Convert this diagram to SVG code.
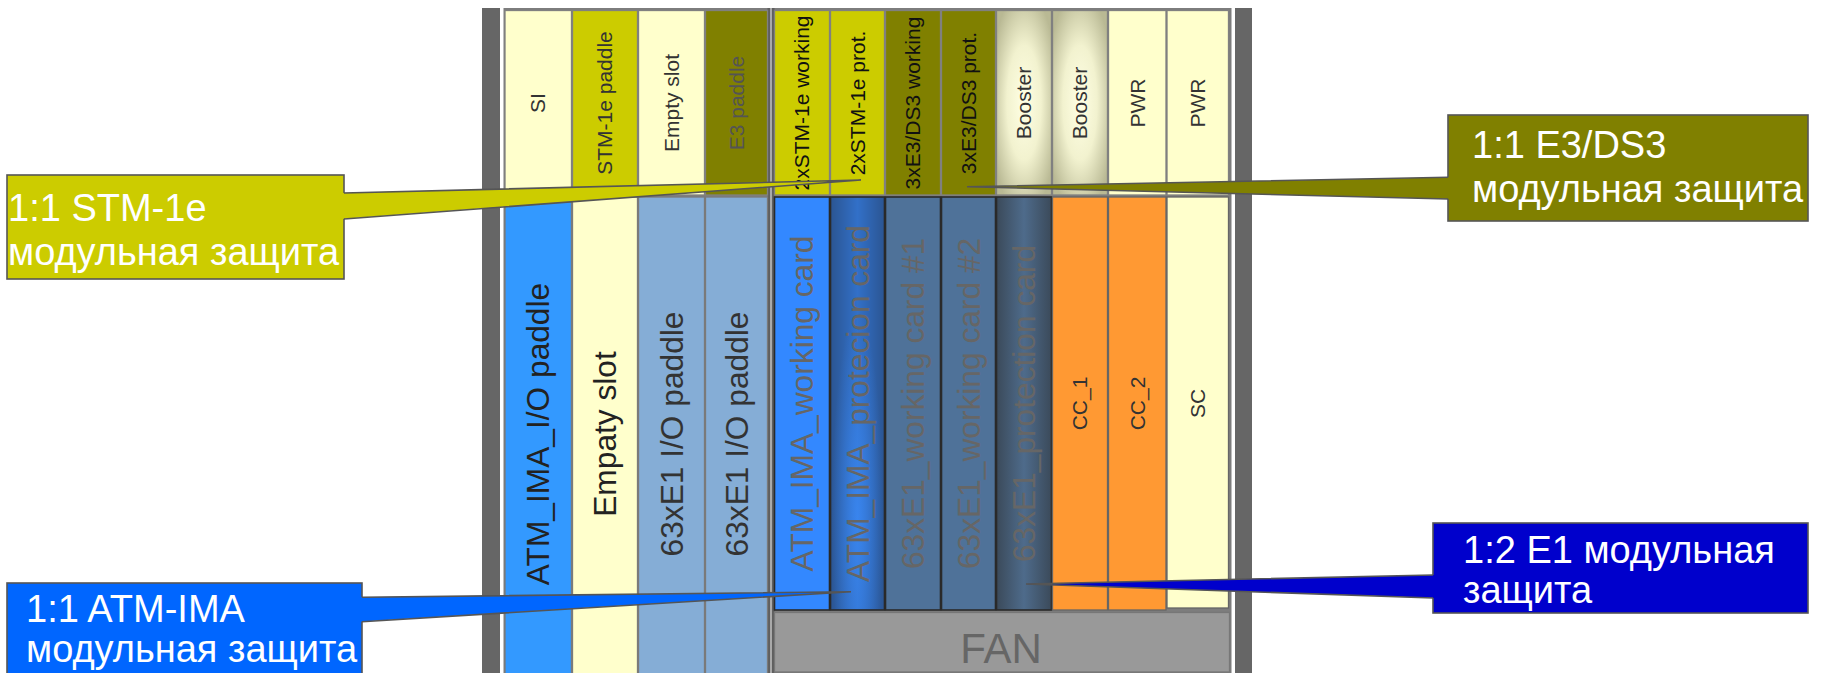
<svg xmlns="http://www.w3.org/2000/svg" width="1824" height="673" viewBox="0 0 1824 673">
<defs>
  <radialGradient id="gBooster" cx="0.5" cy="0.5" r="0.62">
    <stop offset="0" stop-color="#FFFFE4"/>
    <stop offset="0.5" stop-color="#F2F2CF"/>
    <stop offset="1" stop-color="#B9B994"/>
  </radialGradient>
  <linearGradient id="gAtmProt" x1="0" y1="0" x2="1" y2="0">
    <stop offset="0" stop-color="#2B5592"/>
    <stop offset="0.5" stop-color="#3270C8"/>
    <stop offset="1" stop-color="#2B5592"/>
  </linearGradient>
  <radialGradient id="gAtmGlow" cx="0.5" cy="0.78" r="0.5">
    <stop offset="0" stop-color="#3A88F4" stop-opacity="0.85"/>
    <stop offset="1" stop-color="#3A88F4" stop-opacity="0"/>
  </radialGradient>
  <linearGradient id="gE1Prot" x1="0" y1="0" x2="1" y2="0">
    <stop offset="0" stop-color="#3B4A5A"/>
    <stop offset="0.5" stop-color="#4E6B8B"/>
    <stop offset="1" stop-color="#3B4A5A"/>
  </linearGradient>
</defs>
<style>
  text { font-family: "Liberation Sans", Arial, sans-serif; }
  .up { font-size: 21px; fill: #333; text-anchor: middle; }
  .upk { font-size: 21px; fill: #111; text-anchor: middle; }
  .lo { font-size: 31.7px; fill: #222; text-anchor: middle; }
  .log { font-size: 31.7px; fill: #666; text-anchor: middle; }
  .sm { font-size: 21px; fill: #333; text-anchor: middle; }
  .co { font-size: 38px; fill: #FFFFFF; }
  .cu { stroke: #808080; stroke-width: 1.3; }
  .cl { stroke: #7a7a7a; stroke-width: 1.3; }
  .cd { stroke: #2a2a2a; stroke-width: 1.6; }
  .cc { stroke: #666; stroke-width: 1.3; }
  .lyel { fill: #FFFFCC; }
  .yel { fill: #CCCC00; }
  .olv { fill: #808000; }
  .box { stroke: #555; stroke-width: 1.6; }
  .wedge-side { fill: none; stroke: #555; stroke-width: 1.6; stroke-linejoin: miter; }
</style>

<rect width="1824" height="673" fill="#FFFFFF"/>

<g id="chassis">
  <rect x="482" y="8" width="18" height="665" fill="#666666"/>
  <rect x="1235" y="8" width="17" height="665" fill="#666666"/>
  <rect x="503.5" y="8" width="728" height="665" fill="#7d7d7d"/>
  <rect x="767.5" y="8" width="2.5" height="665" fill="#5f5f5f"/>
  <rect x="770" y="8" width="2" height="665" fill="#a9a9a9"/>
  <rect x="772" y="8" width="2.5" height="665" fill="#5f5f5f"/>
</g>

<!-- upper row -->
<g id="slot-si"><rect class="lyel cu" x="505" y="10.5" width="66.5" height="184.5"/><text class="up" transform="translate(538,103) rotate(-90)" y="7.4">SI</text></g>
<g id="slot-stm1e-paddle"><rect class="yel cu" x="572.5" y="10.5" width="65" height="184.5"/><text class="up" transform="translate(605,103) rotate(-90)" y="7.4">STM-1e paddle</text></g>
<g id="slot-empty-upper"><rect class="lyel cu" x="638.5" y="10.5" width="66" height="184.5"/><text class="up" transform="translate(671.5,103) rotate(-90)" y="7.4">Empty slot</text></g>
<g id="slot-e3-paddle"><rect class="olv cu" x="705.5" y="10.5" width="62" height="184.5"/><text class="up" style="fill:#545454" transform="translate(737,103) rotate(-90)" y="7.4">E3 paddle</text></g>
<g id="slot-stm-working"><rect class="yel cu" x="774.5" y="10.5" width="55" height="184.5"/><text class="upk" transform="translate(802,103) rotate(-90)" y="7.4">2xSTM-1e working</text></g>
<g id="slot-stm-prot"><rect class="yel cu" x="830.5" y="10.5" width="54" height="184.5"/><text class="upk" transform="translate(857.5,103) rotate(-90)" y="7.4">2xSTM-1e prot.</text></g>
<g id="slot-e3-working"><rect class="olv cu" x="885.5" y="10.5" width="55" height="184.5"/><text class="upk" transform="translate(913,103) rotate(-90)" y="7.4">3xE3/DS3 working</text></g>
<g id="slot-e3-prot"><rect class="olv cu" x="941.5" y="10.5" width="54" height="184.5"/><text class="upk" transform="translate(968.5,103) rotate(-90)" y="7.4">3xE3/DS3 prot.</text></g>
<g id="slot-booster-1"><rect class="cu" fill="url(#gBooster)" x="996.5" y="10.5" width="55" height="184.5"/><text class="up" transform="translate(1024,103) rotate(-90)" y="7.4">Booster</text></g>
<g id="slot-booster-2"><rect class="cu" fill="url(#gBooster)" x="1052.5" y="10.5" width="55" height="184.5"/><text class="up" transform="translate(1080,103) rotate(-90)" y="7.4">Booster</text></g>
<g id="slot-pwr-1"><rect class="lyel cu" x="1108.5" y="10.5" width="57.5" height="184.5"/><text class="up" transform="translate(1137.5,103) rotate(-90)" y="7.4">PWR</text></g>
<g id="slot-pwr-2"><rect class="lyel cu" x="1167" y="10.5" width="61.5" height="184.5"/><text class="up" transform="translate(1198,103) rotate(-90)" y="7.4">PWR</text></g>

<!-- lower left -->
<g id="slot-atm-io"><rect class="cl" fill="#3399FF" x="505" y="197" width="66.5" height="480"/><text class="lo" transform="translate(538,434) rotate(-90)" y="11.1">ATM_IMA_I/O paddle</text></g>
<g id="slot-empaty"><rect class="lyel cl" x="572.5" y="197" width="65" height="480"/><text class="lo" transform="translate(605,434) rotate(-90)" y="11.1">Empaty slot</text></g>
<g id="slot-e1-io-1"><rect class="cl" fill="#85ADD6" x="638.5" y="197" width="66" height="480"/><text class="lo" style="fill:#333" transform="translate(671.5,434) rotate(-90)" y="11.1">63xE1 I/O paddle</text></g>
<g id="slot-e1-io-2"><rect class="cl" fill="#85ADD6" x="705.5" y="197" width="62" height="480"/><text class="lo" style="fill:#333" transform="translate(737,434) rotate(-90)" y="11.1">63xE1 I/O paddle</text></g>

<!-- lower right -->
<g id="card-atm-working"><rect class="cd" fill="#3388FF" x="774.5" y="197" width="55" height="413"/><text class="log" transform="translate(802,403.5) rotate(-90)" y="11.1">ATM_IMA_working card</text></g>
<g id="card-atm-prot"><rect class="cd" fill="url(#gAtmProt)" x="830.5" y="197" width="54" height="413"/><rect fill="url(#gAtmGlow)" x="831.5" y="198" width="52" height="411"/><text class="log" transform="translate(857.5,403.5) rotate(-90)" y="11.1">ATM_IMA_protecion card</text></g>
<g id="card-e1-working-1"><rect class="cd" fill="#4F7299" x="885.5" y="197" width="55" height="413"/><text class="log" transform="translate(913,403.5) rotate(-90)" y="11.1">63xE1_working card #1</text></g>
<g id="card-e1-working-2"><rect class="cd" fill="#4F7299" x="941.5" y="197" width="54" height="413"/><text class="log" transform="translate(968.5,403.5) rotate(-90)" y="11.1">63xE1_working card #2</text></g>
<g id="card-e1-prot"><rect class="cd" fill="url(#gE1Prot)" x="996.5" y="197" width="55" height="413"/><text class="log" transform="translate(1024,403.5) rotate(-90)" y="11.1">63xE1_protection card</text></g>
<g id="card-cc1"><rect class="cc" fill="#FF9933" x="1052.5" y="197" width="55" height="413"/><text class="sm" transform="translate(1080,403.5) rotate(-90)" y="7.4">CC_1</text></g>
<g id="card-cc2"><rect class="cc" fill="#FF9933" x="1108.5" y="197" width="57.5" height="413"/><text class="sm" transform="translate(1137.5,403.5) rotate(-90)" y="7.4">CC_2</text></g>
<g id="card-sc"><rect class="cc lyel" x="1167" y="197" width="61.5" height="411"/><text class="sm" transform="translate(1198,403.5) rotate(-90)" y="7.4">SC</text></g>

<g id="fan"><rect x="774.5" y="612.5" width="455" height="59.5" fill="#999999" stroke="#777" stroke-width="1.3"/><text x="1001" y="663" font-size="42" fill="#666666" text-anchor="middle" style="font-family:'Liberation Sans', Arial, sans-serif">FAN</text></g>

<!-- callout boxes -->
<g id="callout-stm1e">
  <rect class="box yel" x="7" y="175" width="337" height="104"/>
  <text class="co" x="8" y="221">1:1 STM-1e</text>
  <text class="co" x="8" y="265">модульная защита</text>
</g>
<g id="callout-e3ds3">
  <rect class="box olv" x="1448" y="115" width="360" height="106"/>
  <text class="co" x="1472" y="158">1:1 E3/DS3</text>
  <text class="co" x="1472" y="202">модульная защита</text>
</g>
<g id="callout-atm-ima">
  <rect class="box" fill="#0066FF" x="7" y="583" width="355" height="100"/>
  <text class="co" x="26" y="622">1:1 ATM-IMA</text>
  <text class="co" x="26" y="662">модульная защита</text>
</g>
<g id="callout-e1">
  <rect class="box" fill="#0000CC" x="1433" y="523" width="375" height="90"/>
  <text class="co" x="1463" y="563">1:2 E1 модульная</text>
  <text class="co" x="1463" y="603">защита</text>
</g>

<g id="connectors">
  <polygon points="341,193 861,180 341,219" fill="#CCCC00"/>
  <polyline class="wedge-side" points="344,193 861,180 344,219"/>
  <polygon points="1451,177.3 967,186.7 1451,199" fill="#808000"/>
  <polyline class="wedge-side" points="1448,177.3 967,186.7 1448,199"/>
  <polygon points="359,597.3 851,591.7 359,621.7" fill="#0066FF"/>
  <polyline class="wedge-side" points="362,597.3 851,591.7 362,621.7"/>
  <polygon points="1436,575 1026,584 1436,598" fill="#0000CC"/>
  <polyline class="wedge-side" points="1433,575 1026,584 1433,598"/>
</g>
</svg>
